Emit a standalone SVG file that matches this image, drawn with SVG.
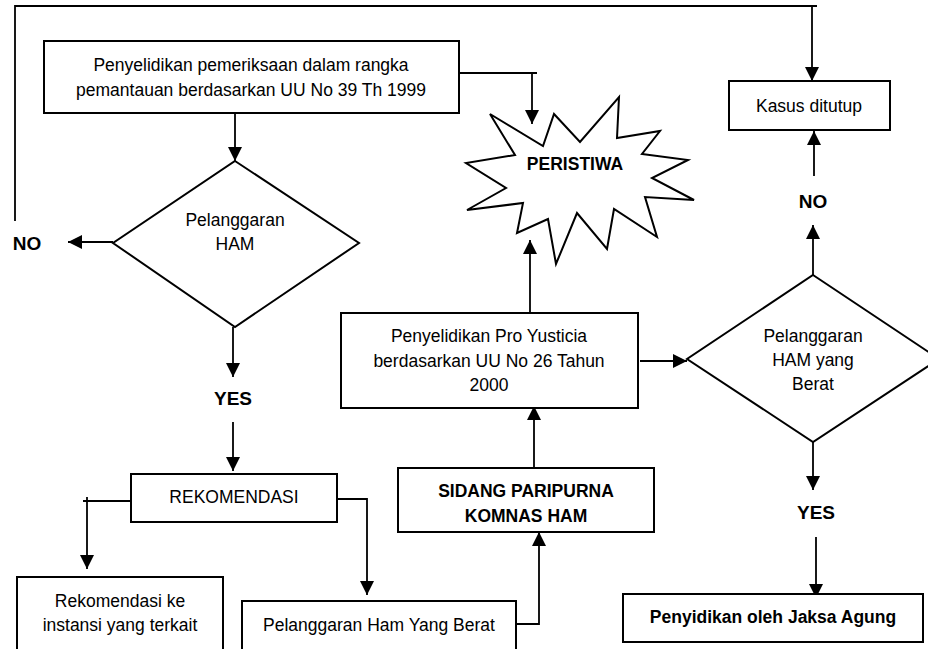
<svg xmlns="http://www.w3.org/2000/svg" width="928" height="649" viewBox="0 0 928 649">
<style>
.box{fill:#fff;stroke:#000;stroke-width:2}
.ln{fill:none;stroke:#000;stroke-width:1.8}
.t{font-family:"Liberation Sans",Arial,sans-serif;font-size:17.5px;fill:#000;text-anchor:middle}
.b{font-weight:bold}
.lbl{font-family:"Liberation Sans",Arial,sans-serif;font-size:19px;font-weight:bold;fill:#000;text-anchor:middle}
</style>
<defs>
<marker id="ah" markerWidth="14" markerHeight="14" viewBox="0 0 14 14" refX="14" refY="7" orient="auto" markerUnits="userSpaceOnUse">
<path d="M0,0 L14,7 L0,14 z" fill="#000"/>
</marker>
</defs>
<rect width="928" height="649" fill="#fff"/>

<g id="connectors">
<path class="ln" d="M15,221 V6 H817"/>
<path class="ln" d="M812,6 V81" marker-end="url(#ah)"/>
<path class="ln" d="M459,73 H537"/>
<path class="ln" d="M532,73 V124" marker-end="url(#ah)"/>
<path class="ln" d="M235,113 V161" marker-end="url(#ah)"/>
<path class="ln" d="M113,242 H68" marker-end="url(#ah)"/>
<path class="ln" d="M233,327 V377" marker-end="url(#ah)"/>
<path class="ln" d="M233,422 V471" marker-end="url(#ah)"/>
<path class="ln" d="M134,501 H83"/>
<path class="ln" d="M87,497 V569" marker-end="url(#ah)"/>
<path class="ln" d="M337,499 H367 V595" marker-end="url(#ah)"/>
<path class="ln" d="M516,624 H539 V532" marker-end="url(#ah)"/>
<path class="ln" d="M534,468 V406" marker-end="url(#ah)"/>
<path class="ln" d="M530,313 V240" marker-end="url(#ah)"/>
<path class="ln" d="M640,361 H687" marker-end="url(#ah)"/>
<path class="ln" d="M813,275 V225" marker-end="url(#ah)"/>
<path class="ln" d="M814,176 V131" marker-end="url(#ah)"/>
<path class="ln" d="M813,442 V490" marker-end="url(#ah)"/>
<path class="ln" d="M816,537 V598" marker-end="url(#ah)"/>
</g>

<g id="box-penyelidikan-pemeriksaan">
<rect class="box" x="44" y="41" width="415" height="72"/>
<text class="t" x="251" y="71">Penyelidikan pemeriksaan dalam rangka</text>
<text class="t" x="251" y="96">pemantauan berdasarkan UU No 39 Th 1999</text>
</g>

<g id="peristiwa">
<polygon class="box" points="490,114 543,146 554,114 580,142 619,97 617,138 660,131 642,154 688,160 652,178 694,200 645,197 657,237 614,209 607,249 577,213 556,264 548,219 517,233 523,203 467,210 506,188 466,163 515,155"/>
<text class="t b" x="575" y="170">PERISTIWA</text>
</g>

<g id="kasus-ditutup">
<rect class="box" x="729" y="81" width="161" height="49"/>
<text class="t" x="809" y="112">Kasus ditutup</text>
</g>

<g id="diamond-pelanggaran-ham">
<polygon class="box" points="235,161 359,243 235,327 113,243"/>
<text class="t" x="235" y="226">Pelanggaran</text>
<text class="t" x="235" y="250">HAM</text>
</g>

<g id="label-no-left"><text class="lbl" x="27" y="250">NO</text></g>
<g id="label-yes-left"><text class="lbl" x="233" y="405">YES</text></g>
<g id="label-no-right"><text class="lbl" x="813" y="208">NO</text></g>
<g id="label-yes-right"><text class="lbl" x="816" y="519">YES</text></g>

<g id="pro-yusticia">
<rect class="box" x="341" y="313" width="297" height="95"/>
<text class="t" x="489" y="342">Penyelidikan Pro Yusticia</text>
<text class="t" x="489" y="367">berdasarkan UU No 26 Tahun</text>
<text class="t" x="489" y="391">2000</text>
</g>

<g id="diamond-ham-berat">
<polygon class="box" points="813,275 939,359 813,442 687,359"/>
<text class="t" x="813" y="342">Pelanggaran</text>
<text class="t" x="813" y="366">HAM yang</text>
<text class="t" x="813" y="390">Berat</text>
</g>

<g id="rekomendasi">
<rect class="box" x="131" y="474" width="206" height="48"/>
<text class="t" x="234" y="503">REKOMENDASI</text>
</g>

<g id="sidang-paripurna">
<rect class="box" x="398" y="468" width="256" height="64"/>
<text class="t b" x="526" y="497">SIDANG PARIPURNA</text>
<text class="t b" x="526" y="522">KOMNAS HAM</text>
</g>

<g id="rekomendasi-instansi">
<rect class="box" x="17" y="577" width="206" height="80"/>
<text class="t" x="120" y="607">Rekomendasi ke</text>
<text class="t" x="120" y="631">instansi yang terkait</text>
</g>

<g id="pelanggaran-ham-berat">
<rect class="box" x="242" y="601" width="274" height="60"/>
<text class="t" x="379" y="631">Pelanggaran Ham Yang Berat</text>
</g>

<g id="penyidikan-jaksa-agung">
<rect class="box" x="623" y="594" width="300" height="48"/>
<text class="t b" x="773" y="623">Penyidikan oleh Jaksa Agung</text>
</g>
</svg>
